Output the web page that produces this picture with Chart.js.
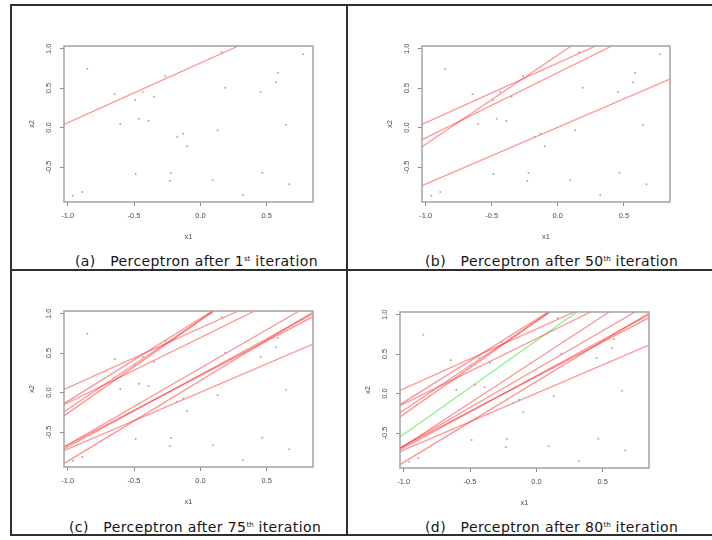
<!DOCTYPE html>
<html>
<head>
<meta charset="utf-8">
<script src="https://cdn.jsdelivr.net/npm/chart.js@4/dist/chart.umd.min.js"></script>
<style>
  body { margin: 0; background: #fff; width: 712px; height: 540px; position: relative; overflow: hidden; }
  .rule { position: absolute; background: #2e2e2e; }
  canvas.panel { position: absolute; }
  .caption { position: absolute; font-family: "DejaVu Sans", Verdana, sans-serif; font-size: 14px; letter-spacing: 0.4px; color: #151515; white-space: pre; line-height: 16px; }
  .caption sup { font-size: 7px; letter-spacing: 0; vertical-align: 5px; line-height: 0; }
</style>
</head>
<body>
<!-- table rules -->
<div class="rule" style="left:10px;top:4px;width:702px;height:2px"></div>
<div class="rule" style="left:10px;top:269px;width:702px;height:2px"></div>
<div class="rule" style="left:10px;top:534px;width:702px;height:2px"></div>
<div class="rule" style="left:10px;top:4px;width:2px;height:532px"></div>
<div class="rule" style="left:346px;top:4px;width:2px;height:532px"></div>

<canvas id="panelA" class="panel" width="299" height="211" style="left:24px;top:36px"></canvas>
<canvas id="panelB" class="panel" width="298" height="211" style="left:382px;top:36px"></canvas>
<canvas id="panelC" class="panel" width="299" height="211" style="left:24px;top:301px"></canvas>
<canvas id="panelD" class="panel" width="299" height="211" style="left:360px;top:302px"></canvas>

<div class="caption" style="left:75px;top:253px">(a)   Perceptron after 1<sup>st</sup> iteration</div>
<div class="caption" style="left:425px;top:253px">(b)   Perceptron after 50<sup>th</sup> iteration</div>
<div class="caption" style="left:69px;top:519px">(c)   Perceptron after 75<sup>th</sup> iteration</div>
<div class="caption" style="left:425px;top:519px">(d)   Perceptron after 80<sup>th</sup> iteration</div>

<script>
// axis setup shared by all four plots
const xTicks = [-1.0, -0.5, 0.0, 0.5];
const yTicks = [-0.5, 0.0, 0.5, 1.0];
const xRange = [-1.028, 0.849];
const yRange = [-0.943, 1.034];

// training points
const x1 = [-0.852, -0.646, -0.493, -0.435, -0.350, -0.264, -0.604, -0.463, -0.390, -0.174,
            -0.131, -0.099, -0.488, -0.222, -0.231, -0.960, -0.890, 0.160, 0.773, 0.585,
            0.570, 0.188, 0.454, 0.645, 0.130, 0.467, 0.093, 0.670, 0.321];
const x2 = [0.746, 0.422, 0.350, 0.455, 0.392, 0.654, 0.046, 0.113, 0.084, -0.115,
            -0.077, -0.237, -0.588, -0.575, -0.677, -0.863, -0.816, 0.958, 0.929, 0.692,
            0.574, 0.506, 0.451, 0.037, -0.034, -0.571, -0.668, -0.719, -0.858];

// decision boundaries as [xStart, yStart, xEnd, yEnd], by the iteration they were added
const linesIter1 = [
  [-1.028, 0.040, 0.286, 1.034]
];
const linesIter50 = [
  [-1.028, -0.153, 0.409, 1.034],
  [-1.028, -0.242, 0.102, 1.034],
  [-1.028, -0.735, 0.849, 0.614]
];
const linesIter75 = [
  [-1.028, -0.140, 0.090, 1.034],
  [-1.028, -0.295, 0.100, 1.034],
  [-1.028, -0.690, 0.745, 1.034],
  [-1.028, -0.690, 0.849, 0.962],
  [-1.028, -0.714, 0.849, 1.000],
  [-1.028, -0.900, 0.849, 1.020]
];
const linesIter80 = [
  [-1.028, -0.700, 0.549, 1.034]
];
const finalLine = [-1.028, -0.550, 0.305, 1.034];

const points = x1.map((v, i) => ({x: v, y: x2[i]}));

function lineDataset(l, color) {
  return {
    data: [{x: l[0], y: l[1]}, {x: l[2], y: l[3]}],
    showLine: true,
    borderColor: color,
    borderWidth: 1.3,
    pointRadius: 0,
    clip: 0
  };
}

// grey plot frame like R's box()
const frame = {
  id: 'frame',
  afterDraw(chart) {
    const {ctx, chartArea: a} = chart;
    ctx.save();
    ctx.strokeStyle = '#a3a3a3';
    ctx.lineWidth = 1.5;
    ctx.strokeRect(a.left, a.top, a.right - a.left, a.bottom - a.top);
    ctx.restore();
  }
};

const tickFont = {family: 'Liberation Sans, Arial, sans-serif', size: 7.5};

function makePlot(id, lines, extra) {
  const datasets = [{
    data: points,
    pointRadius: 1,
    pointBackgroundColor: '#ababab',
    pointBorderWidth: 0
  }];
  lines.forEach(l => datasets.push(lineDataset(l, 'rgba(255,40,40,0.5)')));
  if (extra) datasets.push(lineDataset(extra, 'rgba(60,230,60,0.6)'));

  new Chart(document.getElementById(id), {
    type: 'scatter',
    data: {datasets},
    options: {
      responsive: false,
      animation: false,
      devicePixelRatio: 1,
      layout: {padding: {left: 0, top: 10, right: 10, bottom: 0}},
      plugins: {legend: {display: false}, tooltip: {enabled: false}},
      scales: {
        x: {
          type: 'linear',
          min: xRange[0],
          max: xRange[1],
          afterBuildTicks: s => { s.ticks = xTicks.map(v => ({value: v})); },
          afterFit: s => { s.height = 45; },
          grid: {drawOnChartArea: false, tickLength: 4, tickColor: '#8c8c8c', lineWidth: 1},
          border: {display: false},
          ticks: {font: tickFont, color: '#4a4a4a', padding: 5, maxRotation: 0, callback: v => v.toFixed(1)},
          title: {display: true, text: 'x1', font: tickFont, color: '#4a4a4a', padding: {top: 0, bottom: 6}}
        },
        y: {
          type: 'linear',
          min: yRange[0],
          max: yRange[1],
          afterBuildTicks: s => { s.ticks = yTicks.map(v => ({value: v})); },
          afterFit: s => { s.width = 40; },
          grid: {drawOnChartArea: false, tickLength: 4, tickColor: '#8c8c8c', lineWidth: 1},
          border: {display: false},
          ticks: {font: tickFont, color: '#4a4a4a', padding: 4.5, minRotation: 90, maxRotation: 90,
                  crossAlign: 'center', callback: v => v.toFixed(1)},
          title: {display: true, text: 'x2', font: tickFont, color: '#4a4a4a', padding: {top: 3.5, bottom: 0}}
        }
      }
    },
    plugins: [frame]
  });
}

makePlot('panelA', linesIter1);
makePlot('panelB', linesIter1.concat(linesIter50));
makePlot('panelC', linesIter1.concat(linesIter50, linesIter75));
makePlot('panelD', linesIter1.concat(linesIter50, linesIter75, linesIter80), finalLine);
</script>
</body>
</html>
